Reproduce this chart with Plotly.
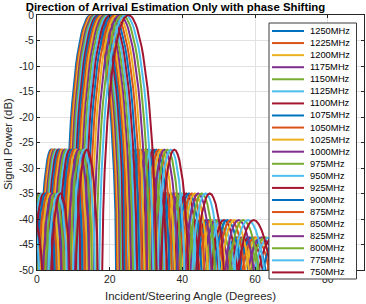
import numpy as np
import plotly.graph_objects as go

# ---------------- data ----------------
freqs_mhz = [1250, 1225, 1200, 1175, 1150, 1125, 1100, 1075, 1050, 1025, 1000,
             975, 950, 925, 900, 875, 850, 825, 800, 775, 750]
# main-beam peak angle of every series (degrees)
peak_angle_deg = [14.79, 15.09, 15.42, 15.75, 16.11, 16.47, 16.86, 17.26, 17.69, 18.13, 18.60,
                  19.10, 19.62, 20.17, 20.76, 21.38, 22.04, 22.75, 23.50, 24.31, 25.17]
series_colors = ["#0072BD", "#D95319", "#EDB120", "#7E2F8E", "#77AC30", "#4DBEEE", "#A2142F"]

# beam pattern template: nulls are evenly spaced in sine space
null_spacing_sine = 0.125
# half main lobe: position (in null spacings from the peak) and level (dB)
main_lobe_pos = [0, 0.05, 0.1, 0.15, 0.2, 0.25, 0.3, 0.35, 0.4, 0.45, 0.5, 0.55, 0.6,
                 0.65, 0.7, 0.75, 0.8, 0.85, 0.9, 0.95, 0.97]
main_lobe_db = [0, -0.07, -0.29, -0.64, -1.16, -1.82, -2.65, -3.66, -4.84, -6.2, -7.84, -9.7,
                -11.9, -14.4, -17.4, -20.9, -25.2, -30.8, -38.5, -51.2, -60.4]
# half side lobe: position inside the lobe (0 = null, 0.5 = top) and level below its top (dB)
sidelobe_pos = [0.03, 0.06, 0.08, 0.1, 0.125, 0.15, 0.175, 0.2, 0.25, 0.3, 0.35, 0.4, 0.45, 0.5]
sidelobe_shape_db = [-41.1, -29.1, -24.2, -20.4, -16.7, -13.7, -11.3, -9.2, -6.0, -3.7, -2.0,
                     -0.9, -0.2, 0]
sidelobe_peak_db = [-26.4, -35.0, -40.2, -43.6, -46.0, -47.4]
null_db = -90

x_ticks = [0, 20, 40, 60, 80]
y_ticks = [0, -5, -10, -15, -20, -25, -30, -35, -40, -45, -50]
x_range = [0, 90]
y_range = [-50, 0]

title_text = "Direction of Arrival Estimation Only with phase Shifting"
x_label = "Incident/Steering Angle (Degrees)"
y_label = "Signal Power (dB)"


def pattern_template():
    mp = np.array(main_lobe_pos)
    md = np.array(main_lobe_db)
    sp = np.array(sidelobe_pos)
    sd = np.array(sidelobe_shape_db)
    side_t = np.concatenate([sp, 1 - sp[-2::-1]])
    side_d = np.concatenate([sd, sd[-2::-1]])
    main_x = np.concatenate([-mp[:0:-1], mp])
    main_d = np.concatenate([md[:0:-1], md])
    n = len(sidelobe_peak_db)
    us, ds = [], []
    for m in range(n, 0, -1):
        start = -(m + 1)
        us += [np.array([start]), start + side_t]
        ds += [np.array([null_db]), sidelobe_peak_db[m - 1] + side_d]
    us += [np.array([-1.0]), main_x, np.array([1.0])]
    ds += [np.array([null_db]), main_d, np.array([null_db])]
    for m in range(1, n + 1):
        us += [m + side_t, np.array([m + 1.0])]
        ds += [sidelobe_peak_db[m - 1] + side_d, np.array([null_db])]
    return np.concatenate(us), np.concatenate(ds)


tmpl_u, tmpl_db = pattern_template()

fig = go.Figure()
for i, (f, pk) in enumerate(zip(freqs_mhz, peak_angle_deg)):
    s = np.sin(np.radians(pk)) + tmpl_u * null_spacing_sine
    ok = np.abs(s) <= 1
    fig.add_trace(go.Scatter(
        x=np.degrees(np.arcsin(s[ok])), y=tmpl_db[ok], mode="lines",
        name=f"{f}MHz", line=dict(color=series_colors[i % len(series_colors)], width=2),
        showlegend=False, hoverinfo="skip"))

W, H = 366, 304
ML, MR, MT, MB = 37, 2, 15, 34
PW, PH = W - ML - MR, H - MT - MB


def px_x(px):
    return (px - ML) / PW


def px_y(py):
    return (H - MB - py) / PH


axis_col = "#262626"
common_axis = dict(showline=True, linecolor=axis_col, linewidth=1, mirror="ticks",
                   ticks="inside", ticklen=3, tickcolor=axis_col, showgrid=True,
                   gridcolor="#e2e2e2", gridwidth=1, zeroline=False,
                   tickfont=dict(size=10.4, color=axis_col))
fig.update_xaxes(range=x_range, tickvals=x_ticks, ticktext=[str(v) for v in x_ticks], **common_axis)
fig.update_yaxes(range=y_range, tickvals=y_ticks, ticktext=[str(v) for v in y_ticks], **common_axis)

shapes = []
annotations = []
# legend box
shapes.append(dict(type="rect", xref="paper", yref="paper", layer="above",
                   x0=px_x(269), x1=px_x(356.5), y0=px_y(279), y1=px_y(23),
                   fillcolor="white", line=dict(color="#3a3a3a", width=1)))
for i, f in enumerate(freqs_mhz):
    yc = px_y(31 + 12.07 * i)
    shapes.append(dict(type="line", xref="paper", yref="paper", layer="above",
                       x0=px_x(272), x1=px_x(304), y0=yc, y1=yc,
                       line=dict(color=series_colors[i % len(series_colors)], width=2)))
    annotations.append(dict(text=f"{f}MHz", xref="paper", yref="paper", x=px_x(307.5), y=yc,
                            xanchor="left", yanchor="middle", showarrow=False,
                            font=dict(size=9.35, color="#000000")))

annotations.append(dict(text=x_label, xref="paper", yref="paper", x=px_x(190), y=px_y(296),
                        xanchor="center", yanchor="middle", showarrow=False,
                        font=dict(size=11.4, color=axis_col)))
annotations.append(dict(text=y_label, xref="paper", yref="paper", x=px_x(8), y=px_y(144),
                        xanchor="center", yanchor="middle", showarrow=False, textangle=-90,
                        font=dict(size=11.4, color=axis_col)))

fig.update_layout(
    width=W, height=H, margin=dict(l=ML, r=MR, t=MT, b=MB),
    paper_bgcolor="white", plot_bgcolor="white", showlegend=False,
    font=dict(family="Liberation Sans, Arial, sans-serif", color=axis_col),
    title=dict(text=f"<b>{title_text}</b>", x=175.5 / W, xanchor="center",
               y=1 - 7 / H, yanchor="middle", yref="container",
               font=dict(size=11.4, color="#000000")),
    shapes=shapes, annotations=annotations,
)

fig.write_html("out.html", config={"displayModeBar": False},
               post_script="document.body.style.margin='0px';")
